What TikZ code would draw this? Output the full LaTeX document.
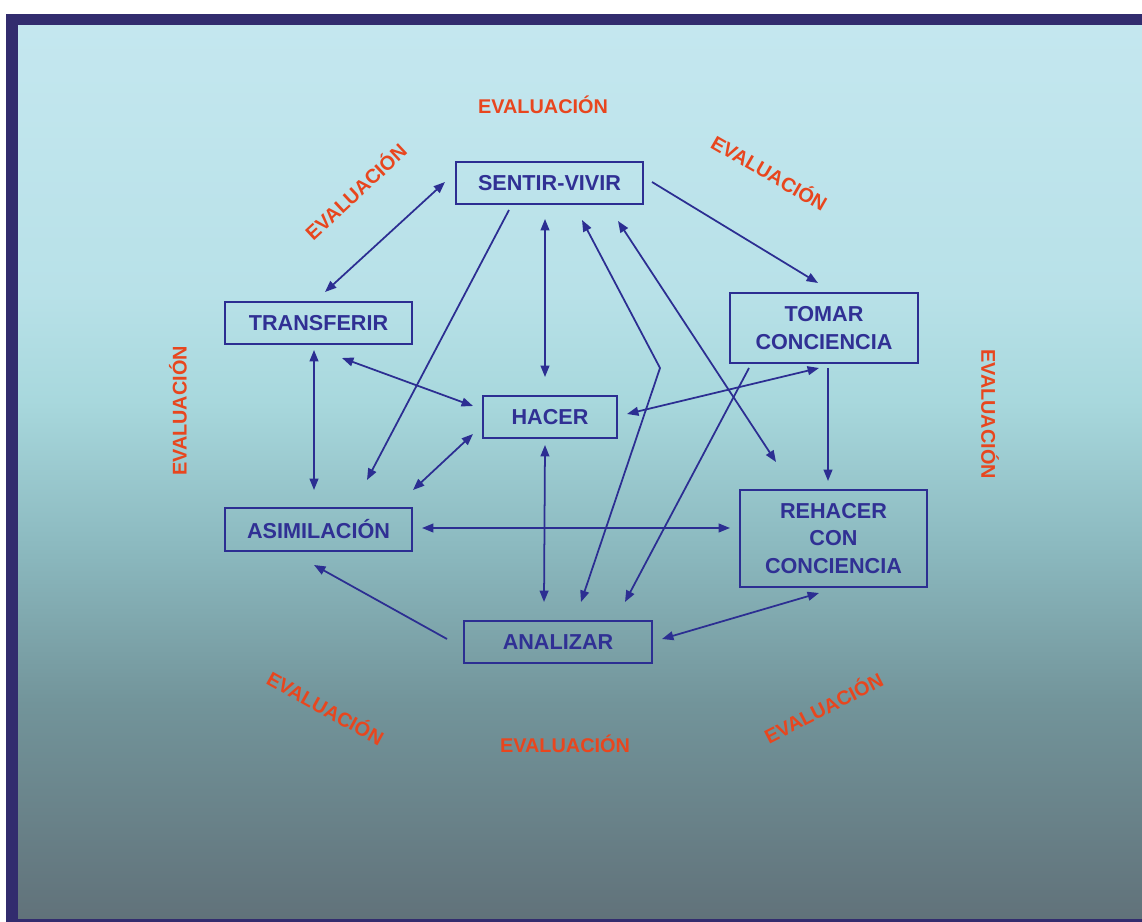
\documentclass[tikz,border=0pt]{standalone}
\usepackage{fontspec}
\setmainfont{Liberation Sans}
\usetikzlibrary{arrows.meta,calc}

\definecolor{framecol}{RGB}{50,44,110}
\definecolor{ink}{RGB}{44,46,146}
\definecolor{boxtext}{RGB}{48,48,148}
\definecolor{evalred}{RGB}{232,70,30}
\definecolor{bgA}{RGB}{97,114,122}
\definecolor{bgB}{RGB}{114,148,154}
\definecolor{bgC}{RGB}{140,186,192}
\definecolor{bgD}{RGB}{168,216,221}
\definecolor{bgE}{RGB}{184,225,232}
\definecolor{bgF}{RGB}{196,231,239}

% vertical background gradient of the panel (bottom -> top)
\pgfdeclareverticalshading{panelshade}{100bp}{%
  color(0bp)=(bgA); color(25bp)=(bgA); color(37bp)=(bgB);
  color(46bp)=(bgC); color(54bp)=(bgD); color(60bp)=(bgE);
  color(75bp)=(bgF); color(100bp)=(bgF)}

\begin{document}
\begin{tikzpicture}[x=0.02cm,y=-0.02cm,
  stepbox/.style={draw=ink,line width=1.3pt,inner sep=0pt,text=boxtext,
    font=\fontsize{12.3}{15.5}\selectfont\bfseries,align=center},
  onearrow/.style={draw=ink,line width=1pt,-{Triangle[length=6.5pt,width=5pt]}},
  twoarrow/.style={draw=ink,line width=1pt,
    {Triangle[length=6.5pt,width=5pt]}-{Triangle[length=6.5pt,width=5pt]}},
  evallabel/.style={text=evalred,inner sep=0pt,
    font=\fontsize{11.3}{13}\selectfont\bfseries}]

% page, frame and shaded panel
\useasboundingbox (0,0) rectangle (1142,922);
\fill[white] (0,0) rectangle (1142,922);
\fill[framecol] (6,14) rectangle (1142,922);
\shade[shading=panelshade] (18,26) rectangle (1142,918);

% boxes
\node[stepbox,minimum width=3.74cm,minimum height=0.84cm] (sv) at (549.5,183) {SENTIR-VIVIR};
\node[stepbox,minimum width=3.74cm,minimum height=0.84cm] (tr) at (318.5,323) {TRANSFERIR};
\node[stepbox,minimum width=3.74cm,minimum height=0.86cm] (as) at (318.5,529.5) {ASIMILACIÓN};
\node[stepbox,minimum width=2.68cm,minimum height=0.84cm] (ha) at (550,417) {HACER};
\node[stepbox,minimum width=3.76cm,minimum height=1.40cm] (tc) at (824,328) {TOMAR\\CONCIENCIA};
\node[stepbox,minimum width=3.74cm,minimum height=1.94cm] (rc) at (833.5,538.5) {REHACER\\CON\\CONCIENCIA};
\node[stepbox,minimum width=3.76cm,minimum height=0.84cm] (an) at (558,642) {ANALIZAR};

% evaluation labels around the cycle
\node[evallabel] (e1) at (543,105) {EVALUACIÓN};
\node[evallabel,rotate=43] (e2) at (355,191) {EVALUACIÓN};
\node[evallabel,rotate=-30] (e3) at (770,172) {EVALUACIÓN};
\node[evallabel,rotate=90] (e4) at (178,411) {EVALUACIÓN};
\node[evallabel,rotate=-90] (e5) at (990,414) {EVALUACIÓN};
\node[evallabel,rotate=-29] (e6) at (326,707) {EVALUACIÓN};
\node[evallabel] (e7) at (565,744) {EVALUACIÓN};
\node[evallabel,rotate=27] (e8) at (823,707) {EVALUACIÓN};

% bend point of the long connector
\coordinate (kink) at (660,368);

% connectors
\draw[twoarrow] ($(sv)+(-104.5,-1)$) -- ($(tr)+(6.5,-31)$);
\draw[onearrow] ($(sv)+(102.5,-1)$) -- ($(tc)+(-6,-45)$);
\draw[onearrow] ($(sv)+(-40.5,27)$) -- ($(as)+(48.5,-49.5)$);
\draw[twoarrow] ($(sv)+(-4.5,36)$) -- ($(ha)+(-5,-40)$);
\draw[twoarrow] ($(sv)+(32.5,37)$) -- (kink) -- ($(an)+(23,-40)$);
\draw[twoarrow] ($(sv)+(68.5,38)$) -- ($(rc)+(-57.5,-76.5)$);
\draw[onearrow] ($(tc)+(-75,40)$) -- ($(an)+(67,-40)$);
\draw[twoarrow] ($(tc)+(-5,40)$) -- ($(ha)+(77,-3)$);
\draw[onearrow] ($(tc)+(4,40)$) -- ($(rc)+(-5.5,-57.5)$);
\draw[twoarrow] ($(tr)+(23.5,35)$) -- ($(ha)+(-77,-11)$);
\draw[twoarrow] ($(tr)+(-4.5,27)$) -- ($(as)+(-4.5,-39.5)$);
\draw[twoarrow] ($(as)+(94.5,-39.5)$) -- ($(ha)+(-77,17)$);
\draw[twoarrow] ($(as)+(103.5,-1.5)$) -- ($(rc)+(-103.5,-10.5)$);
\draw[onearrow] ($(an)+(-111,-3)$) -- ($(as)+(-4.5,35.5)$);
\draw[twoarrow] ($(ha)+(-5,28)$) -- ($(an)+(-14,-40)$);
\draw[twoarrow] ($(an)+(104,-3)$) -- ($(rc)+(-14.5,54.5)$);

\end{tikzpicture}
\end{document}
